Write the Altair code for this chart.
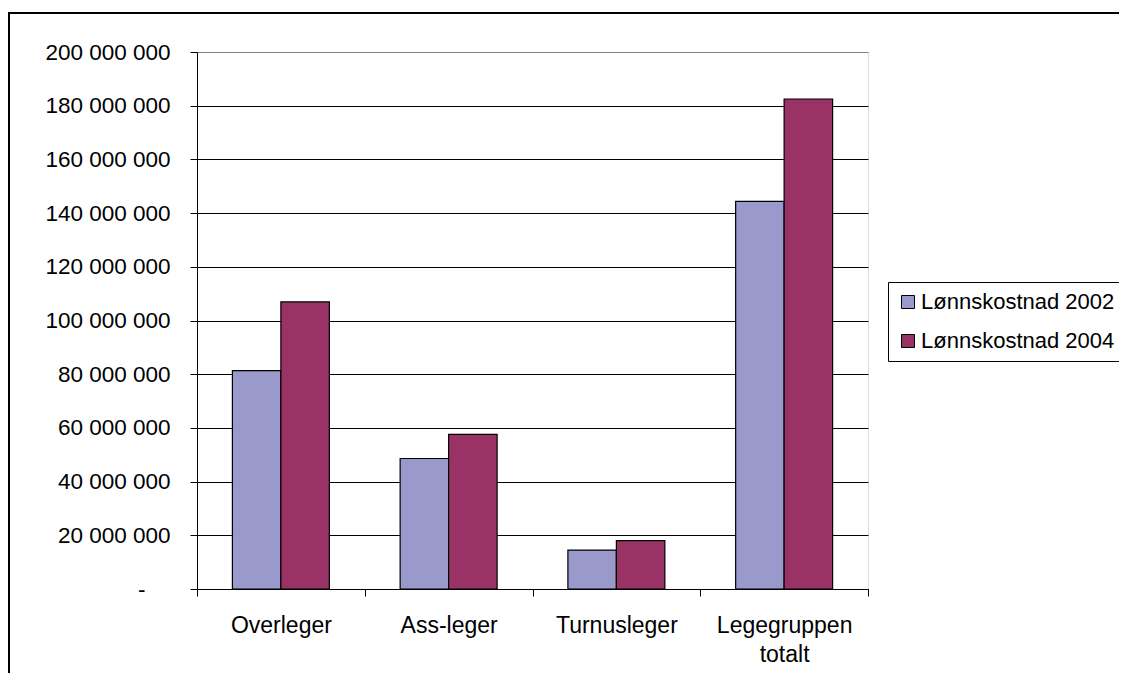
import altair as alt
import pandas as pd

categories = ["Overleger", "Ass-leger", "Turnusleger", "Legegruppen totalt"]
series = ["Lønnskostnad 2002", "Lønnskostnad 2004"]
values_2002 = [81_300_000, 48_600_000, 14_500_000, 144_400_000]
values_2004 = [106_900_000, 57_600_000, 18_000_000, 182_500_000]
y_ticks = [0, 20_000_000, 40_000_000, 60_000_000, 80_000_000, 100_000_000,
           120_000_000, 140_000_000, 160_000_000, 180_000_000, 200_000_000]
colors = ["#9999CC", "#993366"]

rows = []
for c, v1, v2 in zip(categories, values_2002, values_2004):
    rows.append({"Kategori": c, "Serie": series[0], "Verdi": v1})
    rows.append({"Kategori": c, "Serie": series[1], "Verdi": v2})
df = pd.DataFrame(rows)

FONT = "Liberation Sans"

bars = alt.Chart(df).mark_bar(stroke="black", strokeWidth=1.2).encode(
    x=alt.X(
        "Kategori:N", sort=categories,
        scale=alt.Scale(paddingInner=0, paddingOuter=0),
        axis=alt.Axis(
            title=None, labelAngle=0, tickBand="extent", tickSize=7,
            tickColor="black", domainColor="black", labelColor="black",
            labelFont=FONT, labelFontSize=23, labelPadding=18, labelLineHeight=29,
            labelExpr="datum.value == 'Legegruppen totalt' ? ['Legegruppen', 'totalt'] : datum.label",
            grid=False,
        ),
    ),
    xOffset=alt.XOffset("Serie:N", sort=series,
                        scale=alt.Scale(paddingInner=0, paddingOuter=0.73)),
    y=alt.Y(
        "Verdi:Q",
        scale=alt.Scale(domain=[0, 200_000_000], nice=False),
        axis=alt.Axis(
            title=None, values=y_ticks, tickSize=7, tickColor="black",
            domainColor="black", labelColor="black", labelFont=FONT,
            labelFontSize=22.5,
            labelPadding={"condition": {"test": "datum.value === 0", "value": 45}, "value": 20},
            labelExpr="datum.value == 0 ? '-' : replace(format(datum.value, ','), /,/g, ' ')",
            grid=True, gridWidth=1,
            gridColor={"condition": {"test": "datum.value === 200000000", "value": "#808080"}, "value": "black"},
        ),
    ),
    color=alt.Color(
        "Serie:N", sort=series,
        scale=alt.Scale(domain=series, range=colors),
        legend=alt.Legend(
            title=None, orient="none", legendX=691, legendY=230,
            strokeColor="black", fillColor="white", padding=9,
            symbolType="square", symbolSize=169, symbolStrokeColor="black",
            symbolStrokeWidth=1, labelFont=FONT, labelFontSize=22,
            labelColor="black", rowPadding=17, labelOffset=2, labelLimit=600,
        ),
    ),
)

frame = alt.Chart(pd.DataFrame({"a": [0]})).mark_rect(
    fill=None, stroke="black", strokeWidth=2
).encode(
    x=alt.value(-188), x2=alt.value(1100), y=alt.value(-39), y2=alt.value(800)
)

chart = alt.layer(frame, bars).properties(
    width=671, height=537,
    autosize=alt.AutoSizeParams(type="none"),
    padding={"left": 189, "top": 44, "right": 251, "bottom": 84},
).configure_view(stroke="#808080", strokeWidth=1).configure(background="white")

chart.save("out.html", embed_options={"renderer": "svg", "actions": False})
